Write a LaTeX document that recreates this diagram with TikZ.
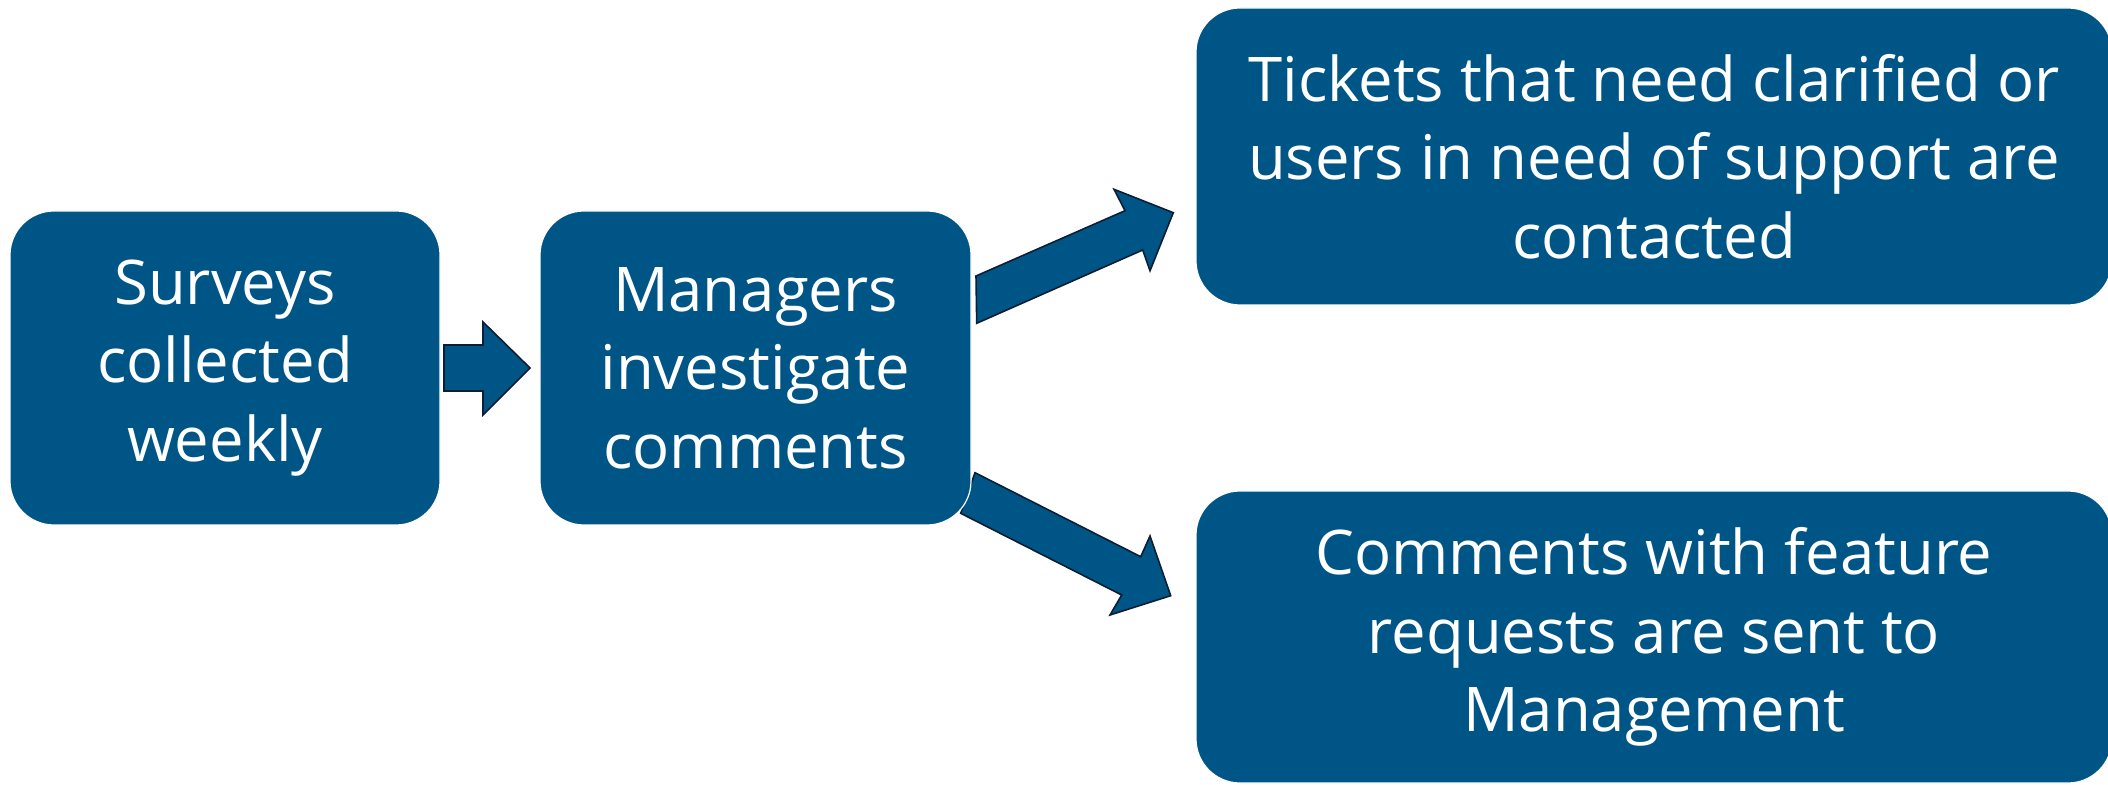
\documentclass[tikz,border=0pt]{standalone}
\usepackage{fontspec}
\setmainfont{Open Sans}
\usetikzlibrary{backgrounds}
\definecolor{boxblue}{RGB}{0,85,135}
\definecolor{edgenavy}{RGB}{12,30,52}
\tikzset{
  box/.style={fill=boxblue, draw=white, line width=0.6pt, rounded corners=22pt,
    text=white, align=center, inner sep=0pt,
    font=\fontsize{30.8}{39.3}\selectfont},
  blockarrow/.style={fill=boxblue, draw=edgenavy, line width=0.8pt, line join=miter}
}
\begin{document}
\begin{tikzpicture}[x=0.5pt, y=-0.5pt]
\useasboundingbox (0,0) rectangle (2108,785);
\node[box, minimum width=215pt, minimum height=157pt] (b1) at (225,368)
  {Surveys\\collected\\weekly};
\node[box, minimum width=215.5pt, minimum height=157pt] (b2) at (755.5,368)
  {Managers\\investigate\\comments};
\node[box, minimum width=458pt, minimum height=148.5pt] (b3) at (1654,156.5)
  {Tickets that need clarified or\\users in need of support are\\contacted};
\node[box, minimum width=458pt, minimum height=146pt] (b4) at (1654,637)
  {Comments with feature\\requests are sent to\\Management};
\begin{scope}[on background layer]
  \draw[blockarrow] (444,345) -- (483,345) -- (483,322) -- (530,368)
    -- (483,415) -- (483,391) -- (444,391) -- cycle;
  \draw[blockarrow] (976.7,323.3) -- (976,276) -- (1125,210.7) -- (1114,189.3)
    -- (1173.3,212.7) -- (1150,270.7) -- (1142.7,250) -- cycle;
  \draw[blockarrow] (975,472.7) -- (1140.7,556.7) -- (1150,536) -- (1170.7,595.7)
    -- (1110,615) -- (1121.7,595) -- (960.7,513.3) -- cycle;
\end{scope}
\end{tikzpicture}
\end{document}
